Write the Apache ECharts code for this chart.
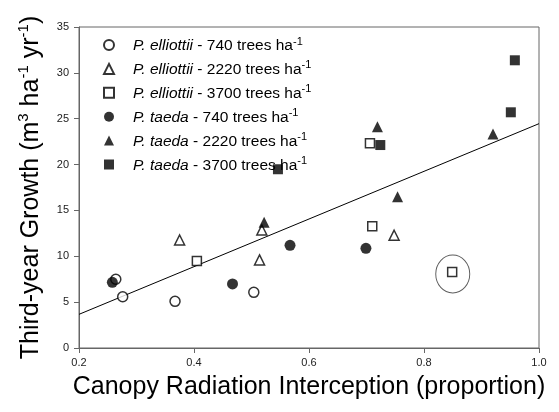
<!DOCTYPE html>
<html><head><meta charset="utf-8">
<script src="https://cdn.jsdelivr.net/npm/echarts@6/dist/echarts.min.js"></script>
<style>html,body{margin:0;padding:0;background:#fff}#c{width:559px;height:412px}</style>
</head><body><div id="c"></div>
<script>
// Tick values
const xTicks = [0.2, 0.4, 0.6, 0.8, 1.0];
const yTicks = [0, 5, 10, 15, 20, 25, 30, 35];

// Series names
const seriesNames = [
  'P. elliottii - 740 trees ha-1',
  'P. elliottii - 2220 trees ha-1',
  'P. elliottii - 3700 trees ha-1',
  'P. taeda - 740 trees ha-1',
  'P. taeda - 2220 trees ha-1',
  'P. taeda - 3700 trees ha-1'
];

// P. elliottii 740
const pe740X = [0.264, 0.276, 0.367, 0.504];
const pe740Y = [7.49, 5.59, 5.09, 6.07];
// P. elliottii 2220
const pe2220X = [0.375, 0.518, 0.514, 0.748];
const pe2220Y = [11.78, 12.87, 9.6, 12.29];
// P. elliottii 3700
const pe3700X = [0.405, 0.706, 0.710, 0.849];
const pe3700Y = [9.49, 22.32, 13.27, 8.29];
// P. taeda 740
const pt740X = [0.258, 0.467, 0.567, 0.699];
const pt740Y = [7.16, 6.98, 11.2, 10.87];
// P. taeda 2220
const pt2220X = [0.522, 0.719, 0.754, 0.920];
const pt2220Y = [13.7, 24.13, 16.5, 23.33];
// P. taeda 3700
const pt3700X = [0.546, 0.724, 0.951, 0.958];
const pt3700Y = [19.49, 22.13, 25.7, 31.37];

// Regression line end points
const regX = [0.2, 1.0];
const regY = [3.67, 24.46];

// Outlier ellipse centre
const outX = [0.850];
const outY = [8.07];

const zip = (a, b) => a.map((v, i) => [v, b[i]]);

const hollow = {color: '#fff', borderColor: '#000', borderWidth: 1.5};
const solid = {color: '#000', borderColor: '#000', borderWidth: 0};

const specs = [
  {x: pe740X, y: pe740Y, symbol: 'circle', size: 10, style: hollow},
  {x: pe2220X, y: pe2220Y, symbol: 'triangle', size: 10, style: hollow},
  {x: pe3700X, y: pe3700Y, symbol: 'rect', size: 9, style: hollow},
  {x: pt740X, y: pt740Y, symbol: 'circle', size: 11, style: solid},
  {x: pt2220X, y: pt2220Y, symbol: 'triangle', size: 11, style: solid},
  {x: pt3700X, y: pt3700Y, symbol: 'rect', size: 10, style: solid}
];

const series = specs.map((s, i) => ({
  type: 'scatter', name: seriesNames[i], symbol: s.symbol, symbolSize: s.size,
  itemStyle: s.style, data: zip(s.x, s.y), z: 5
}));
series.push({
  type: 'line', name: 'fit', data: zip(regX, regY), symbol: 'none',
  lineStyle: {color: '#000', width: 1}, z: 3, silent: true
});
series.push({
  type: 'scatter', name: 'outlier', data: zip(outX, outY), symbol: 'circle',
  symbolSize: [34, 38], itemStyle: {color: 'none', borderColor: '#333', borderWidth: 1}, z: 2
});

const chart = echarts.init(document.getElementById('c'));
chart.setOption({
  animation: false,
  backgroundColor: '#fff',
  textStyle: {fontFamily: 'Liberation Sans, Arial, sans-serif'},
  grid: {left: 79, right: 20, top: 27, bottom: 64, show: true, borderColor: '#666', borderWidth: 1},
  legend: {
    data: seriesNames, orient: 'vertical', left: 98, top: 31, itemWidth: 10, itemHeight: 10, itemGap: 5.9,
    selectedMode: false,
    formatter: n => {
      const m = n.match(/^(P\. \w+)( - \d+ trees ha)(-1)$/);
      return '{p| }{i|' + m[1] + '}{t|' + m[2] + '}{s|-1}';
    },
    textStyle: {
      color: '#000', fontSize: 15.5,
      rich: {
        p: {width: 14, fontSize: 15.5, lineHeight: 18},
        i: {fontStyle: 'italic', fontSize: 15.5, color: '#000', lineHeight: 18, verticalAlign: 'bottom'},
        t: {fontSize: 15.5, color: '#000', lineHeight: 18, verticalAlign: 'bottom'},
        s: {fontSize: 11, color: '#000', lineHeight: 18, verticalAlign: 'top'}
      }
    }
  },
  xAxis: {
    type: 'value', min: xTicks[0], max: xTicks[xTicks.length - 1], interval: 0.2,
    axisLine: {show: true, lineStyle: {color: '#666'}},
    axisTick: {show: true, length: 5, lineStyle: {color: '#666'}},
    splitLine: {show: false},
    axisLabel: {color: '#222', fontSize: 11, margin: 9, formatter: v => v.toFixed(1)},
    name: 'Canopy Radiation Interception (proportion)', nameLocation: 'middle', nameGap: 27,
    nameTextStyle: {fontSize: 25, color: '#000'}
  },
  yAxis: {
    type: 'value', min: yTicks[0], max: yTicks[yTicks.length - 1], interval: 5,
    axisLine: {show: true, lineStyle: {color: '#666'}},
    axisTick: {show: true, length: 5, lineStyle: {color: '#666'}},
    splitLine: {show: false},
    axisLabel: {color: '#222', fontSize: 11, margin: 10},
    name: 'Third-year Growth (m{s|3} ha{s|-1} yr{s|-1})', nameLocation: 'middle', nameGap: 25, nameRotate: 90,
    nameTextStyle: {
      fontSize: 25, color: '#000', lineHeight: 30,
      rich: {s: {fontSize: 15, color: '#000', verticalAlign: 'top', lineHeight: 30}}
    }
  },
  series: series
});
</script></body></html>
